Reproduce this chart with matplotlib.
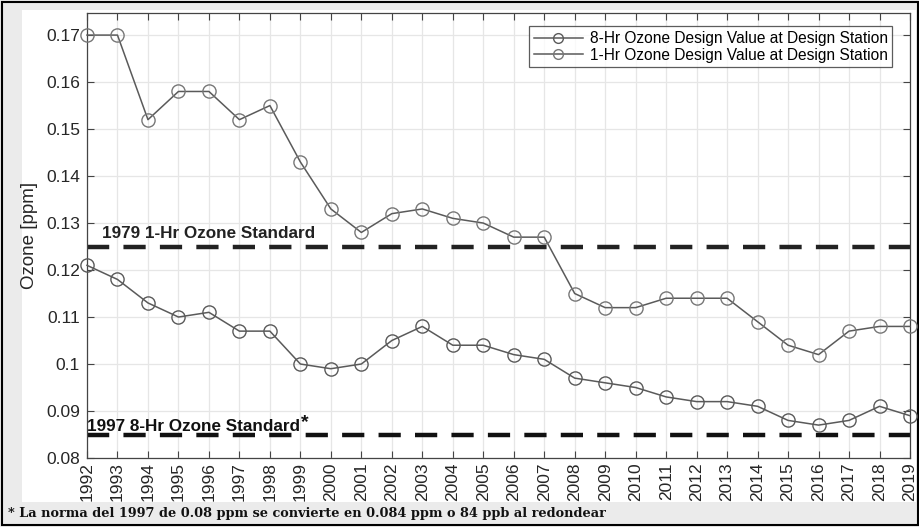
import matplotlib
matplotlib.use("Agg")
import matplotlib.pyplot as plt
from matplotlib.patches import Rectangle

plt.rcParams["font.family"] = ["Liberation Sans", "DejaVu Sans"]

years = list(range(1992, 2020))
one_hr = [0.170, 0.170, 0.152, 0.158, 0.158, 0.152, 0.155, 0.143, 0.133, 0.128,
          0.132, 0.133, 0.131, 0.130, 0.127, 0.127, 0.115, 0.112, 0.112, 0.114,
          0.114, 0.114, 0.109, 0.104, 0.102, 0.107, 0.108, 0.108]
eight_hr = [0.121, 0.118, 0.113, 0.110, 0.111, 0.107, 0.107, 0.100, 0.099, 0.100,
            0.105, 0.108, 0.104, 0.104, 0.102, 0.101, 0.097, 0.096, 0.095, 0.093,
            0.092, 0.092, 0.091, 0.088, 0.087, 0.088, 0.091, 0.089]
std_1hr = 0.125
std_8hr = 0.085
yticks = [0.08, 0.09, 0.10, 0.11, 0.12, 0.13, 0.14, 0.15, 0.16, 0.17]
ytick_labels = ["0.08", "0.09", "0.1", "0.11", "0.12", "0.13", "0.14", "0.15", "0.16", "0.17"]

W, H = 920, 527
fig = plt.figure(figsize=(W/100, H/100), dpi=100, facecolor="#ebebeb")
# white panel
fig.patches.append(Rectangle((22/W, 1-502/H), (916-22)/W, (502-10)/H,
                             transform=fig.transFigure, facecolor="white",
                             edgecolor="none", zorder=-10))
# outer black frame
fig.patches.append(Rectangle((2/W, 2/H), (W-4)/W, (H-4)/H, transform=fig.transFigure,
                             facecolor="none", edgecolor="black", linewidth=1.5, zorder=-9))

ax = fig.add_axes([87/W, 1-458/H, (910-87)/W, (458-13)/H])
ax.set_facecolor("white")
line_col = "#5a5a5a"
ax.plot(years, eight_hr, color=line_col, lw=1.1, marker="o", ms=9.5,
        mfc="none", mec="#5a5a5a", mew=1.0,
        label="8-Hr Ozone Design Value at Design Station", clip_on=False, zorder=3)
ax.plot(years, one_hr, color=line_col, lw=1.1, marker="o", ms=9.5,
        mfc="none", mec="#777777", mew=1.0,
        label="1-Hr Ozone Design Value at Design Station", clip_on=False, zorder=3)
ax.axhline(std_1hr, color="#222222", lw=3.2, dashes=(5, 3.2), zorder=2)
ax.axhline(std_8hr, color="#111111", lw=3.2, dashes=(5, 3.2), zorder=2)

ax.text(1992.5, std_1hr + 0.0011, "1979 1-Hr Ozone Standard", fontsize=12.3,
        fontweight="bold", color="#222222", va="bottom", ha="left")
t8 = ax.text(1992.0, std_8hr + 0.0002, "1997 8-Hr Ozone Standard", fontsize=12.3,
             fontweight="bold", color="#111111", va="bottom", ha="left")
ax.annotate("*", xy=(1, 1), xycoords=t8, xytext=(0.5, -9), textcoords="offset points",
            fontsize=14, fontweight="bold", color="#111111", va="bottom", ha="left")

ax.set_xlim(1992, 2019)
ax.set_ylim(0.08, 0.1747)
ax.set_xticks(years)
ax.set_xticklabels([str(y) for y in years], rotation=90, fontsize=12.5, color="#262626")
ax.set_yticks(yticks)
ax.set_yticklabels(ytick_labels, fontsize=12.5, color="#262626")
ax.set_ylabel("Ozone [ppm]", fontsize=13.5, color="#262626", labelpad=6)
ax.grid(True, color="#e6e6e6", lw=0.9)
ax.set_axisbelow(True)
ax.tick_params(direction="in", top=True, right=True, length=5, width=0.8,
               color="#444444")
ax.tick_params(axis="y", pad=5)
ax.tick_params(axis="x", pad=3)
for s in ax.spines.values():
    s.set_color("#444444")
    s.set_linewidth(0.9)

leg = ax.legend(loc="upper right", bbox_to_anchor=(0.9785, 0.97), fontsize=11.2,
                frameon=True, fancybox=False, edgecolor="#333333",
                borderpad=0.3, labelspacing=0.1, handlelength=3.2, handletextpad=0.4,
                borderaxespad=0.0)
leg.get_frame().set_linewidth(0.9)
for h in leg.legend_handles:
    h.set_markersize(7)

fig.text(8/W, 1-514/H, "* La norma del 1997 de 0.08 ppm se convierte en 0.084 ppm o 84 ppb al redondear",
         fontsize=9.3, fontweight="bold", family="DejaVu Serif", va="center", ha="left",
         color="#111111")

fig.savefig("out.png", dpi=100, facecolor=fig.get_facecolor())
